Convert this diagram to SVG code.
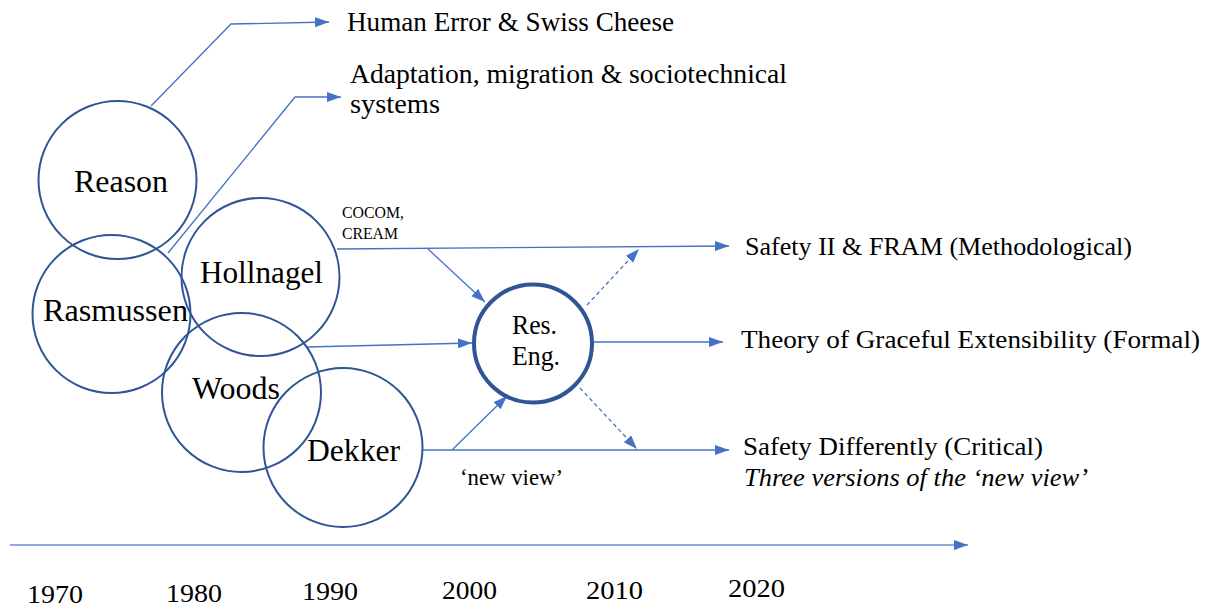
<svg xmlns="http://www.w3.org/2000/svg" width="1208" height="608" viewBox="0 0 1208 608">
<style>
text{font-family:"Liberation Serif","Times New Roman",serif;fill:#000}
.c{fill:none;stroke:#2F5597;stroke-width:2}
.ln{fill:none;stroke:#4472C4;stroke-width:1.3}
.dash{stroke-dasharray:4 3}
.big{font-size:32px}
.lab{font-size:27px}
.rt{font-size:25px}
.yr{font-size:26px}
</style>
<defs>
<marker id="ah" markerUnits="userSpaceOnUse" markerWidth="15" markerHeight="11" refX="14" refY="5" orient="auto">
<path d="M0,0 L14,5 L0,10 z" fill="#4472C4"/>
</marker>
</defs>
<rect width="1208" height="608" fill="#fff"/>
<g id="connectors">
<polyline class="ln" points="151,106 231,24 329,22" marker-end="url(#ah)"/>
<polyline class="ln" points="168,253 295,97 341,97" marker-end="url(#ah)"/>
<line class="ln" x1="337" y1="249" x2="729" y2="246" marker-end="url(#ah)"/>
<line class="ln" x1="428" y1="249" x2="485" y2="302" marker-end="url(#ah)"/>
<line class="ln" x1="307" y1="347" x2="472" y2="343" marker-end="url(#ah)"/>
<line class="ln" x1="593" y1="342" x2="723" y2="342" marker-end="url(#ah)"/>
<line class="ln" x1="423" y1="450" x2="729" y2="450" marker-end="url(#ah)"/>
<line class="ln" x1="452" y1="450" x2="507" y2="396" marker-end="url(#ah)"/>
<line class="ln dash" x1="587" y1="305" x2="639" y2="249" marker-end="url(#ah)"/>
<line class="ln dash" x1="580" y1="388" x2="637" y2="449" marker-end="url(#ah)"/>
<line x1="10" y1="545" x2="968" y2="545" stroke="#8FAADC" stroke-width="2" marker-end="url(#ah)"/>
</g>
<g id="reason"><circle class="c" cx="117.5" cy="180" r="79"/><text class="big" x="74" y="192" textLength="94" lengthAdjust="spacingAndGlyphs">Reason</text></g>
<g id="rasmussen"><circle class="c" cx="111.5" cy="314" r="79"/><text class="big" x="43" y="321" textLength="145" lengthAdjust="spacingAndGlyphs">Rasmussen</text></g>
<g id="hollnagel"><circle class="c" cx="260.5" cy="277" r="79"/><text class="big" x="200" y="283" textLength="123" lengthAdjust="spacingAndGlyphs">Hollnagel</text></g>
<g id="woods"><circle class="c" cx="241.5" cy="392.5" r="79.5"/><text class="big" x="192" y="399" textLength="88" lengthAdjust="spacingAndGlyphs">Woods</text></g>
<g id="dekker"><circle class="c" cx="343" cy="447.5" r="79.5"/><text class="big" x="307" y="461" textLength="93" lengthAdjust="spacingAndGlyphs">Dekker</text></g>
<g id="res-eng"><circle cx="533" cy="343.5" r="59" fill="none" stroke="#2F5597" stroke-width="4"/>
<text font-size="27" x="512" y="334" textLength="45" lengthAdjust="spacingAndGlyphs">Res.</text>
<text font-size="27" x="512" y="365" textLength="48" lengthAdjust="spacingAndGlyphs">Eng.</text></g>
<g id="labels">
<text class="lab" x="347" y="31" textLength="327" lengthAdjust="spacingAndGlyphs">Human Error &amp; Swiss Cheese</text>
<text class="lab" x="350" y="83" textLength="437" lengthAdjust="spacingAndGlyphs">Adaptation, migration &amp; sociotechnical</text>
<text class="lab" x="350" y="113" textLength="90" lengthAdjust="spacingAndGlyphs">systems</text>
<text font-size="17" x="342" y="218" textLength="62" lengthAdjust="spacingAndGlyphs">COCOM,</text>
<text font-size="17" x="342" y="239" textLength="56" lengthAdjust="spacingAndGlyphs">CREAM</text>
<text font-size="24" x="460" y="485" textLength="103" lengthAdjust="spacingAndGlyphs">‘new view’</text>
<text class="rt" x="745" y="255" textLength="387" lengthAdjust="spacingAndGlyphs">Safety II &amp; FRAM (Methodological)</text>
<text class="rt" x="741" y="348" textLength="459" lengthAdjust="spacingAndGlyphs">Theory of Graceful Extensibility (Formal)</text>
<text class="rt" x="743" y="455" textLength="300" lengthAdjust="spacingAndGlyphs">Safety Differently (Critical)</text>
<text class="rt" x="744" y="486" font-style="italic" textLength="344" lengthAdjust="spacingAndGlyphs">Three versions of the ‘new view’</text>
</g>
<g id="years">
<text class="yr" x="27" y="603" textLength="56" lengthAdjust="spacingAndGlyphs">1970</text>
<text class="yr" x="166" y="602" textLength="56" lengthAdjust="spacingAndGlyphs">1980</text>
<text class="yr" x="302" y="600" textLength="56" lengthAdjust="spacingAndGlyphs">1990</text>
<text class="yr" x="442" y="599" textLength="55" lengthAdjust="spacingAndGlyphs">2000</text>
<text class="yr" x="586" y="599" textLength="57" lengthAdjust="spacingAndGlyphs">2010</text>
<text class="yr" x="728" y="597" textLength="57" lengthAdjust="spacingAndGlyphs">2020</text>
</g>
</svg>
